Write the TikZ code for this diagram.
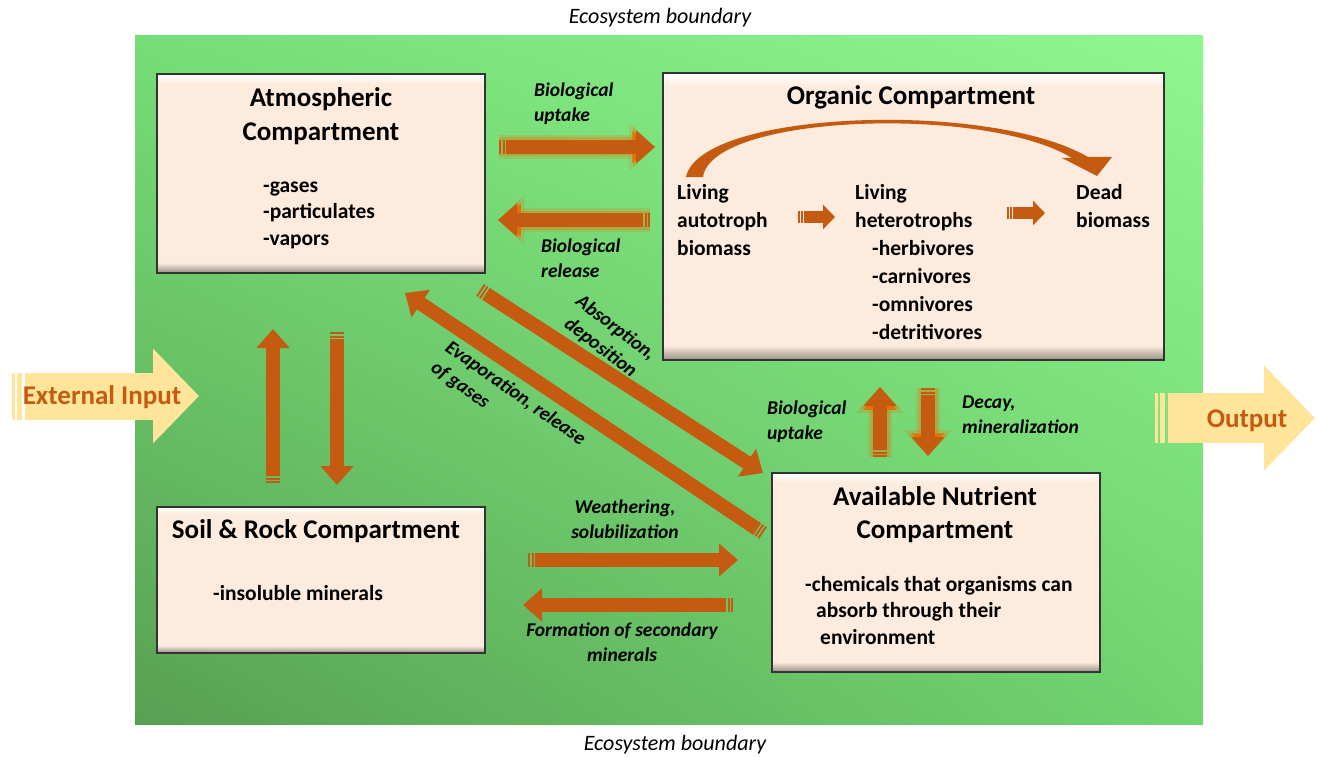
\documentclass[tikz,border=0pt]{standalone}
\usepackage{fontspec}
\setmainfont{Carlito}
\usetikzlibrary{arrows.meta, positioning, shadings}

\definecolor{rust}{RGB}{197,90,17}
\definecolor{peach}{RGB}{253,235,221}
\definecolor{sand}{RGB}{255,229,153}
\definecolor{grassNW}{RGB}{118,222,118}
\definecolor{grassNE}{RGB}{143,247,143}
\definecolor{grassSW}{RGB}{88,160,82}
\definecolor{grassSE}{RGB}{112,212,112}

% bevelled fill of the compartment boxes (box spans 25bp..75bp)
\pgfdeclareverticalshading{bevel}{100bp}{color(0bp)=(peach!60!black); color(25bp)=(peach!60!black);
    color(27.5bp)=(peach); color(72.5bp)=(peach); color(75bp)=(white); color(100bp)=(white)}

\tikzset{
    compartment/.style={draw=black!80, line width=1.8pt, shading=bevel, anchor=north west, inner sep=0pt},
    heading/.style={font=\fontsize{27}{33}\selectfont\bfseries, align=center, anchor=base, inner sep=0pt},
    body/.style={font=\fontsize{21.5}{26.5}\selectfont\bfseries, align=left, anchor=base west, inner sep=0pt},
    orgcol/.style={font=\fontsize{21.5}{28}\selectfont\bfseries},
    flowlabel/.style={font=\fontsize{19.5}{25}\selectfont\bfseries\itshape, inner sep=0pt},
    boundary/.style={font=\fontsize{22}{26}\selectfont\itshape, anchor=base, inner sep=0pt},
    bigtext/.style={font=\fontsize{27}{32}\selectfont\bfseries, text=rust, anchor=base, inner sep=0pt},
    flow/.style={draw=rust, line width=14pt, -{Triangle[length=19pt, width=32pt]},
        dash pattern=on 2pt off 1.5pt on 2pt off 1.5pt on 2000pt},
    glow/.style={preaction={draw=orange!60!rust, draw opacity=0.2, line width=24pt, solid,
            -{Triangle[length=26pt, width=46pt]}},
        preaction={draw=orange!60!rust, draw opacity=0.3, line width=19pt, solid,
            -{Triangle[length=22pt, width=40pt]}}},
    stagearrow/.style={draw=rust, line width=12pt, -{Triangle[length=12pt, width=24pt]},
        dash pattern=on 2pt off 1pt on 2pt off 1pt on 2000pt},
    bigflow/.style={draw=sand, dash pattern=on 3pt off 2pt on 5pt off 3pt on 2000pt},
}

\begin{document}
\begin{tikzpicture}[x=1pt, y=-1pt]
\useasboundingbox (0,0) rectangle (1317,757);

% ecosystem area
\shade[upper left=grassNW, upper right=grassNE, lower left=grassSW, lower right=grassSE]
    (135,36) rectangle (1203,724);
\node[boundary] (topB) at (660,24) {Ecosystem boundary};
\node[boundary] (botB) at (675,750) {Ecosystem boundary};

% compartments
\node[compartment, minimum width=328pt, minimum height=199pt] (atm) at (156,73) {};
\node[compartment, minimum width=501pt, minimum height=287pt] (org) at (662,72) {};
\node[compartment, minimum width=328pt, minimum height=146pt] (soil) at (156,506) {};
\node[compartment, minimum width=328pt, minimum height=199pt] (nutr) at (771,472) {};

% texts (multi-line nodes sit on their last line)
\node[heading] (atmT) at (321,140) {Atmospheric\\Compartment};
\node[body] (atmL) at (263,245) {-gases\\-particulates\\-vapors};

\node[heading] (orgT) at (911,105) {Organic Compartment};
\node[body, orgcol] (auto) at (677,255) {Living\\autotroph\\biomass};
\node[body, orgcol] (hetero) at (855,339) {Living\\heterotrophs\\\hspace*{17pt}-herbivores\\\hspace*{17pt}-carnivores\\\hspace*{17pt}-omnivores\\\hspace*{17pt}-detritivores};
\node[body, orgcol] (dead) at (1076,227) {Dead\\biomass};

\node[heading] (soilT) at (316,538) {Soil \& Rock Compartment};
\node[body] (soilL) at (213,600) {-insoluble minerals};

\node[heading] (nutrT) at (935,538) {Available Nutrient\\Compartment};
\node[body] (nutrL) at (805,644) {-chemicals that organisms can\\\hspace*{11pt}absorb through their\\\hspace*{15pt}environment};

% arrow ends
\coordinate (upA) at (499,147);  \coordinate (upB) at (655,147);
\coordinate (relA) at (650,220); \coordinate (relB) at (498,220);
\coordinate (absA) at (480,290); \coordinate (absB) at (763,473);
\coordinate (evaA) at (763,533); \coordinate (evaB) at (405,293);
\coordinate (risA) at (273,483); \coordinate (risB) at (273,329);
\coordinate (sinA) at (337,332); \coordinate (sinB) at (337,485);
\coordinate (takA) at (880,457); \coordinate (takB) at (880,387);
\coordinate (decA) at (928,388); \coordinate (decB) at (928,456);
\coordinate (weaA) at (528,560); \coordinate (weaB) at (738,560);
\coordinate (forA) at (733,605); \coordinate (forB) at (523,605);
\coordinate (st1A) at (798,217); \coordinate (st1B) at (835,217);
\coordinate (st2A) at (1007,213); \coordinate (st2B) at (1045,213);
\coordinate (inA) at (12,396);   \coordinate (inB) at (199,396);
\coordinate (outA) at (1155,418); \coordinate (outB) at (1315,418);

% exchanges between compartments
\draw[flow, glow] (upA) -- (upB);
\draw[flow, glow] (relA) -- (relB);
\draw[flow] (absA) -- (absB);
\draw[flow] (evaA) -- (evaB);
\draw[flow] (risA) -- (risB);
\draw[flow] (sinA) -- (sinB);
\draw[flow, glow] (takA) -- (takB);
\draw[flow, glow] (decA) -- (decB);
\draw[flow] (weaA) -- (weaB);
\draw[flow] (forA) -- (forB);

% inside the organic compartment
\draw[stagearrow] (st1A) -- (st1B);
\draw[stagearrow] (st2A) -- (st2B);
\fill[rust] (686,177) .. controls (700,110) and (990,100) .. (1088,157) -- (1112,157) -- (1097,176)
    -- (1062,158) -- (1072,158) .. controls (985,105) and (712,114) .. (703,177) -- cycle;

% flow labels
\node[flowlabel, anchor=base west, align=left] (upL) at (534,122) {Biological\\uptake};
\node[flowlabel, anchor=base west, align=left] (relL) at (541,277) {Biological\\release};
\node[flowlabel, align=center, rotate=-37] (absL) at (608,338) {Absorption,\\deposition};
\node[flowlabel, align=left, rotate=-35] (evaL) at (508,404) {Evaporation, release\\of gases};
\node[flowlabel, anchor=base, align=center] (weaL) at (625,538) {Weathering,\\solubilization};
\node[flowlabel, anchor=base, align=center] (forL) at (622,661) {Formation of secondary\\minerals};
\node[flowlabel, anchor=base west, align=left] (takL) at (767,439) {Biological\\uptake};
\node[flowlabel, anchor=base west, align=left] (decL) at (962,433) {Decay,\\mineralization};

% input and output of the ecosystem
\draw[bigflow, line width=47pt, -{Triangle[length=46pt, width=92pt]}] (inA) -- (inB);
\draw[bigflow, line width=50pt, -{Triangle[length=51pt, width=102pt]}] (outA) -- (outB);
\node[bigtext] (inT) at (102,404) {External Input};
\node[bigtext] (outT) at (1247,427) {Output};
\end{tikzpicture}
\end{document}
